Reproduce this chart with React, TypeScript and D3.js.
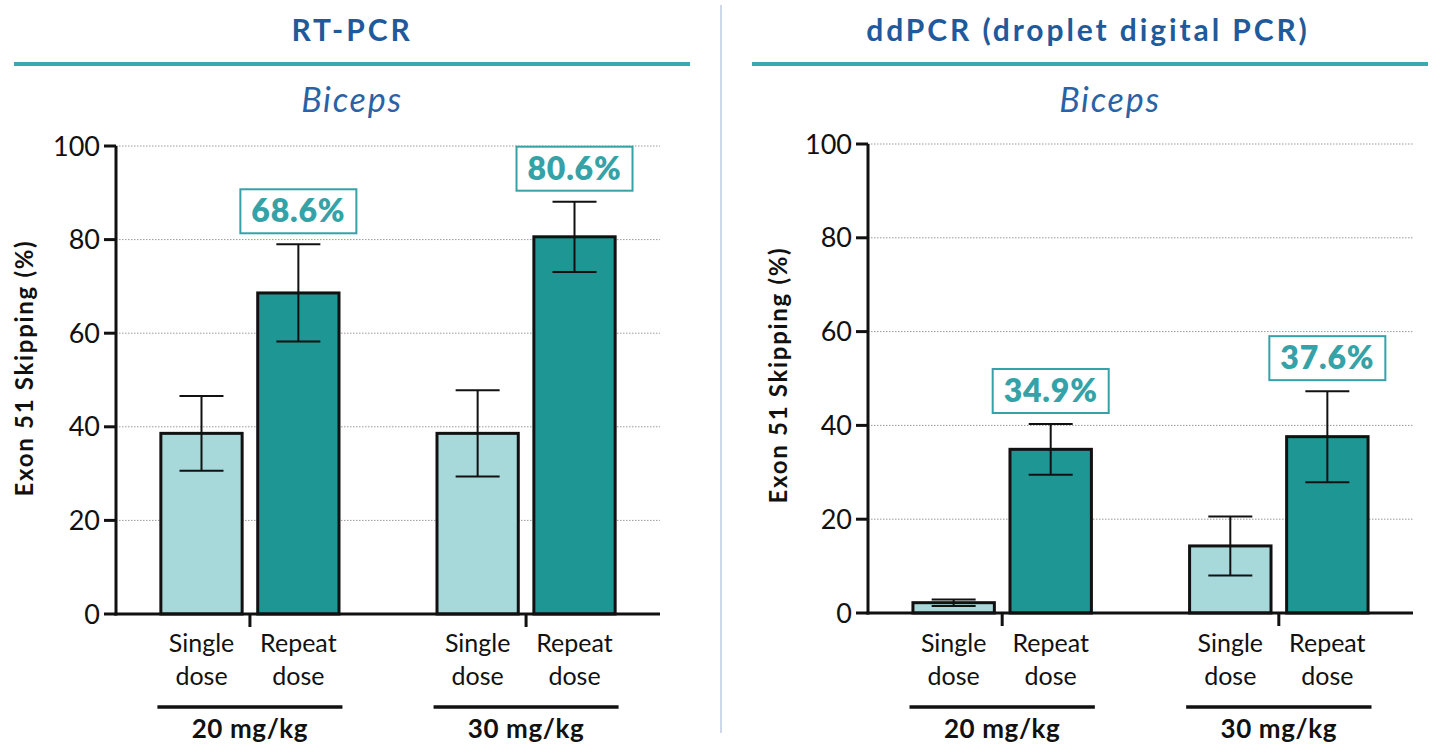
import React from 'react';
import * as d3 from 'd3';

const groups = ['20 mg/kg', '30 mg/kg'];
const doseLine1 = ['Single', 'Repeat'];
const doseLine2 = ['dose', 'dose'];
const yTicks = [0, 20, 40, 60, 80, 100];

const rtSingleMean = [38.6, 38.6];
const rtSingleErr = [8.0, 9.2];
const rtRepeatMean = [68.6, 80.6];
const rtRepeatErr = [10.4, 7.5];
const rtLabels = ['68.6%', '80.6%'];

const ddSingleMean = [2.2, 14.3];
const ddSingleErr = [0.7, 6.3];
const ddRepeatMean = [34.9, 37.6];
const ddRepeatErr = [5.4, 9.7];
const ddLabels = ['34.9%', '37.6%'];

const FONT = 'Lato, "Open Sans", sans-serif';
const BLUE = '#1f5a9c';
const TEAL_LINE = '#3aa9b1';
const LABEL_TEAL = '#34a2a7';
const LIGHT = '#a7d8da';
const DARK = '#1e9794';

type PanelProps = {
  title: string;
  titleX: number;
  subX: number;
  lineX0: number;
  lineX1: number;
  x0: number;
  x1: number;
  yBottom: number;
  yTop: number;
  titleAxisX: number;
  titleAxisY: number;
  singleMean: number[];
  singleErr: number[];
  repeatMean: number[];
  repeatErr: number[];
  labels: string[];
};

function Panel(p: PanelProps) {
  const y = d3.scaleLinear().domain([0, 100]).range([p.yBottom, p.yTop]);
  const gx = d3.scaleBand<string>().domain(groups).range([p.x0, p.x1]).paddingInner(0.33).paddingOuter(0.15);
  const dx = d3.scaleBand<string>().domain(['single', 'repeat']).range([0, gx.bandwidth()]).paddingInner(0.13).paddingOuter(0.02);
  const bw = dx.bandwidth();
  const capHalf = 22;

  const bars: any[] = [];
  groups.forEach((g, i) => {
    const gs = gx(g)!;
    [
      { key: 'single', mean: p.singleMean[i], err: p.singleErr[i], fill: LIGHT },
      { key: 'repeat', mean: p.repeatMean[i], err: p.repeatErr[i], fill: DARK },
    ].forEach((b) => {
      bars.push({ ...b, g, i, x: gs + dx(b.key)!, cx: gs + dx(b.key)! + bw / 2 });
    });
  });

  return (
    <g>
      <text x={p.titleX} y={41} textAnchor="middle" fontFamily={FONT} fontWeight={700} fontSize={30} letterSpacing={2.9} fill={BLUE}>
        {p.title}
      </text>
      <line x1={p.lineX0} x2={p.lineX1} y1={64} y2={64} stroke={TEAL_LINE} strokeWidth={4} />
      <text x={p.subX} y={112} textAnchor="middle" fontFamily={FONT} fontStyle="italic" fontSize={34} letterSpacing={1.8} fill="#2a62a6">
        Biceps
      </text>

      {yTicks.filter((t) => t > 0).map((t) => (
        <line key={'g' + t} x1={p.x0} x2={p.x1} y1={y(t)} y2={y(t)} stroke="#9a9a9a" strokeWidth={1} strokeDasharray="1.5 1.5" />
      ))}

      {bars.map((b) => (
        <rect key={b.g + b.key} x={b.x + 1.5} y={y(b.mean)} width={bw - 3} height={y(0) - y(b.mean)} fill={b.fill} stroke="#111" strokeWidth={3} />
      ))}

      {bars.map((b) => (
        <g key={'e' + b.g + b.key} stroke="#111" strokeWidth={2}>
          <line x1={b.cx} x2={b.cx} y1={y(b.mean + b.err)} y2={y(b.mean - b.err)} />
          <line x1={b.cx - capHalf} x2={b.cx + capHalf} y1={y(b.mean + b.err)} y2={y(b.mean + b.err)} />
          <line x1={b.cx - capHalf} x2={b.cx + capHalf} y1={y(b.mean - b.err)} y2={y(b.mean - b.err)} />
        </g>
      ))}

      {bars.filter((b) => b.key === 'repeat').map((b) => {
        const bottom = y(b.mean + b.err) - 11;
        const h = 44;
        const w = 116;
        return (
          <g key={'l' + b.g}>
            <rect x={b.cx - w / 2} y={bottom - h} width={w} height={h} fill="#fff" stroke={LABEL_TEAL} strokeWidth={2} />
            <text x={b.cx} y={bottom - h / 2 + 11} textAnchor="middle" fontFamily={FONT} fontWeight={800} fontSize={32} letterSpacing={0.8} fill={LABEL_TEAL}>
              {p.labels[b.i]}
            </text>
          </g>
        );
      })}

      {/* y axis */}
      <line x1={p.x0} x2={p.x0} y1={y(0) + 1.5} y2={y(100)} stroke="#111" strokeWidth={3} />
      {yTicks.map((t) => (
        <g key={'t' + t}>
          <line x1={p.x0 - 12} x2={p.x0} y1={y(t)} y2={y(t)} stroke="#111" strokeWidth={3} />
          <text x={p.x0 - 16} y={y(t) + 9.5} textAnchor="end" fontFamily={FONT} fontSize={27} fill="#111">
            {t}
          </text>
        </g>
      ))}
      <text
        transform={`translate(${p.titleAxisX},${p.titleAxisY}) rotate(-90)`}
        textAnchor="middle"
        dominantBaseline="central"
        fontFamily={FONT}
        fontWeight={700}
        fontSize={24}
        letterSpacing={1.7}
        fill="#111"
      >
        Exon 51 Skipping (%)
      </text>

      {/* x axis */}
      <line x1={p.x0 - 1.5} x2={p.x1} y1={y(0)} y2={y(0)} stroke="#111" strokeWidth={3} />
      {groups.map((g) => {
        const c = gx(g)! + gx.bandwidth() / 2;
        return (
          <g key={'x' + g}>
            <line x1={c} x2={c} y1={y(0)} y2={y(0) + 13} stroke="#111" strokeWidth={3} />
            <line x1={gx(g)!} x2={gx(g)! + gx.bandwidth()} y1={707} y2={707} stroke="#111" strokeWidth={3.5} />
            <text x={c} y={738} textAnchor="middle" fontFamily={FONT} fontWeight={700} fontSize={26} letterSpacing={0.6} fill="#111">
              {g}
            </text>
          </g>
        );
      })}
      {bars.map((b) => (
        <g key={'d' + b.g + b.key}>
          <text x={b.cx} y={652} textAnchor="middle" fontFamily={FONT} fontSize={25} fill="#111">
            {doseLine1[b.key === 'single' ? 0 : 1]}
          </text>
          <text x={b.cx} y={685} textAnchor="middle" fontFamily={FONT} fontSize={25} fill="#111">
            {doseLine2[b.key === 'single' ? 0 : 1]}
          </text>
        </g>
      ))}
    </g>
  );
}

export default function App() {
  return (
    <svg width={1434} height={748} style={{ position: 'absolute', left: 0, top: 0, background: '#fff' }}>
      <rect width={1434} height={748} fill="#fff" />
      <line x1={721} x2={721} y1={5} y2={733} stroke="#bccbe2" strokeWidth={1.5} />
      <Panel
        title="RT-PCR"
        titleX={352}
        subX={352}
        lineX0={14}
        lineX1={690}
        x0={116}
        x1={660}
        yBottom={614}
        yTop={146}
        titleAxisX={23}
        titleAxisY={368}
        singleMean={rtSingleMean}
        singleErr={rtSingleErr}
        repeatMean={rtRepeatMean}
        repeatErr={rtRepeatErr}
        labels={rtLabels}
      />
      <Panel
        title="ddPCR (droplet digital PCR)"
        titleX={1088}
        subX={1110}
        lineX0={752}
        lineX1={1428}
        x0={868}
        x1={1413}
        yBottom={613}
        yTop={144}
        titleAxisX={777}
        titleAxisY={375}
        singleMean={ddSingleMean}
        singleErr={ddSingleErr}
        repeatMean={ddRepeatMean}
        repeatErr={ddRepeatErr}
        labels={ddLabels}
      />
    </svg>
  );
}
